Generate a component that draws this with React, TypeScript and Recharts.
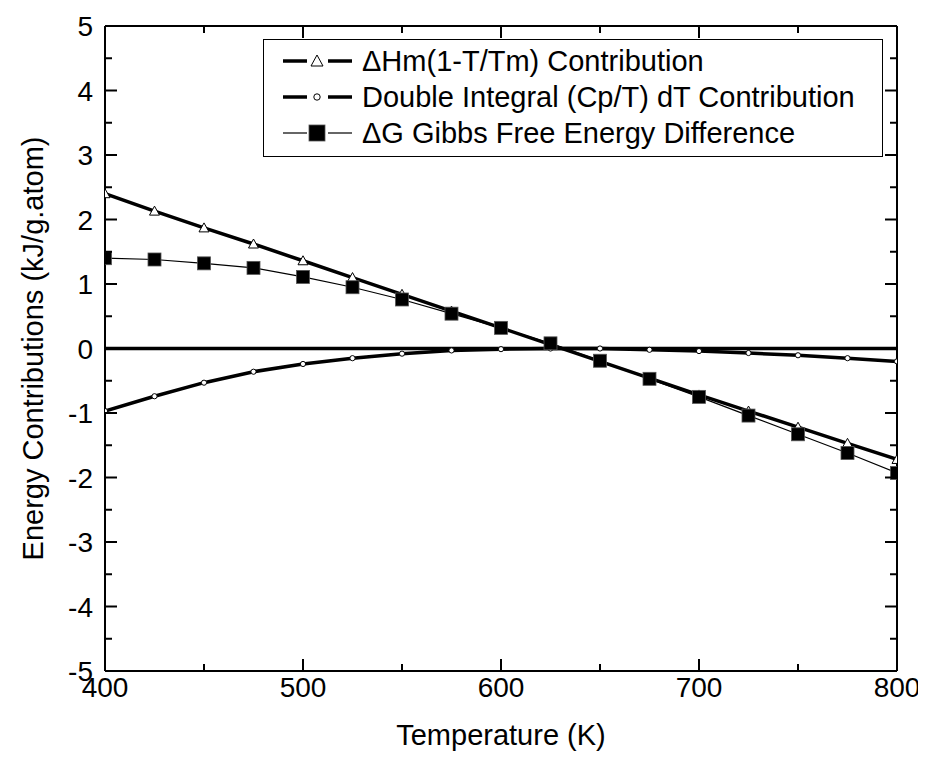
import React from 'react';
import {
  LineChart, Line, XAxis, YAxis, ReferenceLine,
} from 'recharts';

const temperature = [400, 425, 450, 475, 500, 525, 550, 575, 600, 625, 650, 675, 700, 725, 750, 775, 800];
const enthalpyTerm = [2.4, 2.13, 1.87, 1.62, 1.36, 1.1, 0.84, 0.58, 0.32, 0.06, -0.2, -0.46, -0.72, -0.97, -1.22, -1.47, -1.72];
const integralTerm = [-0.97, -0.74, -0.53, -0.36, -0.24, -0.15, -0.08, -0.03, -0.01, 0.0, 0.0, -0.02, -0.04, -0.07, -0.105, -0.15, -0.2];
const gibbsDiff = [1.4, 1.38, 1.32, 1.25, 1.11, 0.95, 0.76, 0.54, 0.32, 0.08, -0.19, -0.47, -0.75, -1.04, -1.33, -1.62, -1.93];

const xMajor = [400, 500, 600, 700, 800];
const xTicks = [400, 450, 500, 550, 600, 650, 700, 750, 800];
const yMajor = [-5, -4, -3, -2, -1, 0, 1, 2, 3, 4, 5];
const yTicks = [-5, -4.5, -4, -3.5, -3, -2.5, -2, -1.5, -1, -0.5, 0, 0.5, 1, 1.5, 2, 2.5, 3, 3.5, 4, 4.5, 5];

const data = temperature.map((t, i) => ({
  T: t,
  dh: enthalpyTerm[i],
  integral: integralTerm[i],
  dg: gibbsDiff[i],
}));

const FONT = '"Liberation Sans", Arial, sans-serif';
const TICK_FS = 28;
const TITLE_FS = 29;
const MAJOR = 12;
const MINOR = 7;

function BottomTick({ x, y, payload }: any) {
  const major = xMajor.includes(payload.value);
  return (
    <g>
      <line x1={x} x2={x} y1={y} y2={y - (major ? MAJOR : MINOR)} stroke="#000" strokeWidth={2} />
      {major && (
        <text x={x} y={y + 26} textAnchor="middle" fontSize={TICK_FS} fontFamily={FONT} fill="#000">{payload.value}</text>
      )}
    </g>
  );
}

function TopTick({ x, y, payload }: any) {
  const major = xMajor.includes(payload.value);
  return <line x1={x} x2={x} y1={y} y2={y + (major ? MAJOR : MINOR)} stroke="#000" strokeWidth={2} />;
}

function LeftTick({ x, y, payload }: any) {
  const major = yMajor.includes(payload.value);
  return (
    <g>
      <line x1={x} x2={x + (major ? MAJOR : MINOR)} y1={y} y2={y} stroke="#000" strokeWidth={2} />
      {major && (
        <text x={x - 12} y={y} dy="0.36em" textAnchor="end" fontSize={TICK_FS} fontFamily={FONT} fill="#000">{payload.value}</text>
      )}
    </g>
  );
}

function RightTick({ x, y, payload }: any) {
  const major = yMajor.includes(payload.value);
  return <line x1={x} x2={x - (major ? MAJOR : MINOR)} y1={y} y2={y} stroke="#000" strokeWidth={2} />;
}

function triangleDot(props: any) {
  const { cx, cy, index } = props;
  const s = 5;
  return (
    <path key={`tri-${index}`} d={`M${cx},${cy - s} L${cx + s},${cy + s * 0.8} L${cx - s},${cy + s * 0.8} Z`}
      fill="#fff" stroke="#000" strokeWidth={1} />
  );
}

function circleDot(props: any) {
  const { cx, cy, index } = props;
  return <circle key={`cir-${index}`} cx={cx} cy={cy} r={2.6} fill="#fff" stroke="#000" strokeWidth={1} />;
}

function squareDot(props: any) {
  const { cx, cy, index } = props;
  return <rect key={`sq-${index}`} x={cx - 6.5} y={cy - 6.5} width={13} height={13} fill="#000" stroke="#555" strokeWidth={0.8} />;
}

const legendItems = [
  { label: '\u0394Hm(1-T/Tm) Contribution', width: 3.5, marker: 'triangle' },
  { label: 'Double Integral (Cp/T) dT Contribution', width: 3.5, marker: 'circle' },
  { label: '\u0394G Gibbs Free Energy Difference', width: 1.2, marker: 'square' },
];

function LegendMarker({ marker }: { marker: string }) {
  if (marker === 'triangle') return <path d="M34,4 L40,15 L28,15 Z" fill="#fff" stroke="#000" strokeWidth={1} />;
  if (marker === 'circle') return <circle cx={34} cy={10} r={3.2} fill="#fff" stroke="#000" strokeWidth={1} />;
  return <rect x={26} y={2} width={16} height={16} fill="#000" stroke="#555" strokeWidth={0.8} />;
}

export default function App() {
  return (
    <div style={{ position: 'relative', width: 910, height: 747, background: '#fff' }}>
      <style>{'.recharts-surface { overflow: visible; }'}</style>
      <LineChart width={910} height={747} data={data} margin={{ top: 13, right: 11, bottom: 24, left: 0 }}>
        <XAxis
          dataKey="T" type="number" domain={[400, 800]} ticks={xTicks} interval={0}
          tickSize={0} tickMargin={0} tickLine={false} tick={<BottomTick />}
          axisLine={{ stroke: '#000', strokeWidth: 2 }} height={60} allowDataOverflow
          label={{
            content: (p: any) => {
              const vb = p.viewBox;
              return (
                <text x={vb.x + vb.width / 2} y={vb.y + 74} textAnchor="middle" fontSize={TITLE_FS} fontFamily={FONT} fill="#000">
                  Temperature (K)
                </text>
              );
            },
          }}
        />
        <XAxis
          xAxisId="top" orientation="top" dataKey="T" type="number" domain={[400, 800]} ticks={xTicks} interval={0}
          tickSize={0} tickMargin={0} tickLine={false} tick={<TopTick />}
          axisLine={{ stroke: '#000', strokeWidth: 2 }} height={5} allowDataOverflow
        />
        <YAxis
          type="number" domain={[-5, 5]} ticks={yTicks} interval={0} width={97}
          tickSize={0} tickMargin={0} tickLine={false} tick={<LeftTick />}
          axisLine={{ stroke: '#000', strokeWidth: 2 }} allowDataOverflow
          label={{
            content: (p: any) => {
              const vb = p.viewBox;
              const cx = vb.x + 25;
              const cy = vb.y + vb.height / 2;
              return (
                <text x={cx} y={cy} dy="0.36em" textAnchor="middle" fontSize={TITLE_FS} fontFamily={FONT} fill="#000"
                  transform={`rotate(-90 ${cx} ${cy})`}>
                  Energy Contributions (kJ/g.atom)
                </text>
              );
            },
          }}
        />
        <YAxis
          yAxisId="right" orientation="right" type="number" domain={[-5, 5]} ticks={yTicks} interval={0} width={10}
          tickSize={0} tickMargin={0} tickLine={false} tick={<RightTick />}
          axisLine={{ stroke: '#000', strokeWidth: 2 }} allowDataOverflow
        />
        <ReferenceLine y={0} stroke="#000" strokeWidth={3.5} />
        <Line dataKey="dh" stroke="#000" strokeWidth={3.5} dot={triangleDot} isAnimationActive={false} />
        <Line dataKey="integral" stroke="#000" strokeWidth={3.5} dot={circleDot} isAnimationActive={false} />
        <Line dataKey="dg" stroke="#000" strokeWidth={1.2} dot={squareDot} isAnimationActive={false} />
      </LineChart>
      <div
        style={{
          position: 'absolute', left: 255, top: 31, width: 620, height: 118,
          border: '1.5px solid #000', background: '#fff', boxSizing: 'border-box', paddingTop: 3,
          fontFamily: FONT, fontSize: TITLE_FS, color: '#000',
        }}
      >
        {legendItems.map((item) => (
          <div key={item.label} style={{ display: 'flex', alignItems: 'center', height: 36, paddingLeft: 19 }}>
            <svg width={69} height={20} style={{ flex: 'none' }}>
              <line x1={0} x2={24} y1={10} y2={10} stroke="#000" strokeWidth={item.width} />
              <line x1={45} x2={69} y1={10} y2={10} stroke="#000" strokeWidth={item.width} />
              <LegendMarker marker={item.marker} />
            </svg>
            <span style={{ marginLeft: 10, whiteSpace: 'nowrap', lineHeight: '36px' }}>{item.label}</span>
          </div>
        ))}
      </div>
    </div>
  );
}
